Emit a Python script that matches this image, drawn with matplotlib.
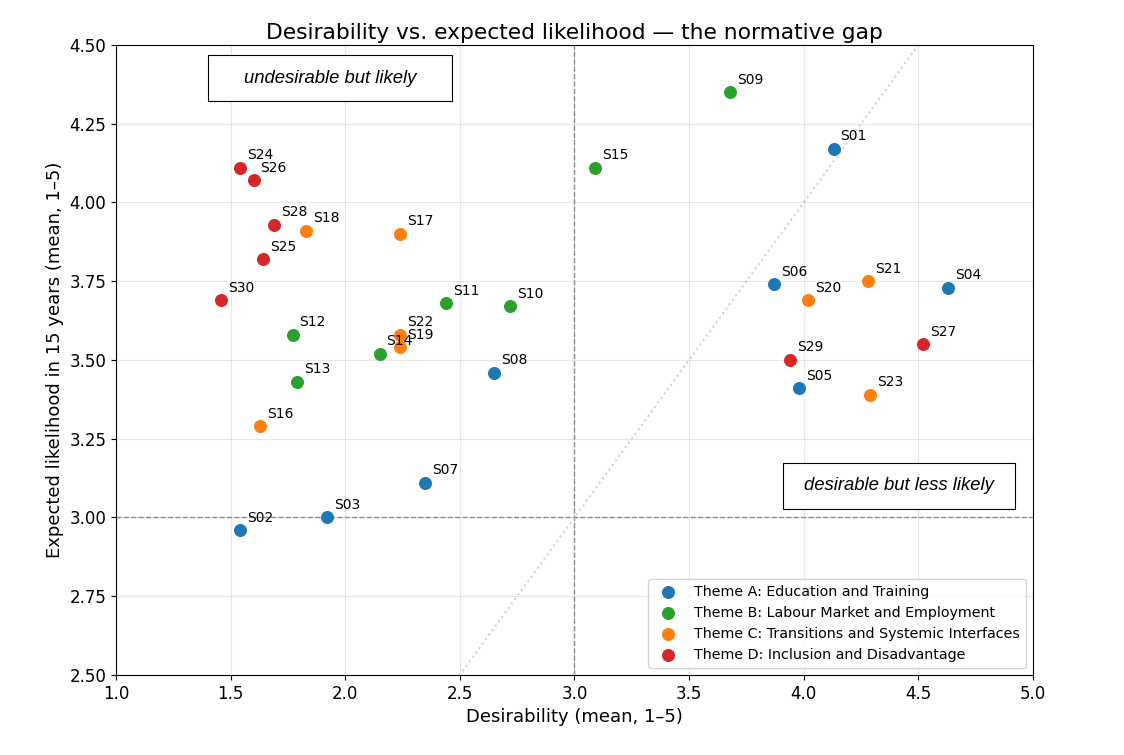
import matplotlib

matplotlib.use("Agg")
import matplotlib.pyplot as plt
from matplotlib.patches import Rectangle

# scenario ids, theme, desirability (x), expected likelihood (y)
ids = [f"S{i:02d}" for i in range(1, 31)]
themes = ["A", "A", "A", "A", "A", "A", "A", "A",
          "B", "B", "B", "B", "B", "B", "B",
          "C", "C", "C", "C", "C", "C", "C", "C",
          "D", "D", "D", "D", "D", "D", "D"]
desirability = [4.13, 1.54, 1.92, 4.63, 3.98, 3.87, 2.35, 2.65,
                3.68, 2.72, 2.44, 1.77, 1.79, 2.15, 3.09,
                1.63, 2.24, 1.83, 2.24, 4.02, 4.28, 2.24, 4.29,
                1.54, 1.64, 1.60, 4.52, 1.69, 3.94, 1.46]
likelihood = [4.17, 2.96, 3.00, 3.73, 3.41, 3.74, 3.11, 3.46,
              4.35, 3.67, 3.68, 3.58, 3.43, 3.52, 4.11,
              3.29, 3.90, 3.91, 3.54, 3.69, 3.75, 3.58, 3.39,
              4.11, 3.82, 4.07, 3.55, 3.93, 3.50, 3.69]

theme_names = {
    "A": "Theme A: Education and Training",
    "B": "Theme B: Labour Market and Employment",
    "C": "Theme C: Transitions and Systemic Interfaces",
    "D": "Theme D: Inclusion and Disadvantage",
}
theme_colors = {"A": "#1f77b4", "B": "#2ca02c", "C": "#ff7f0e", "D": "#d62728"}

fig = plt.figure(figsize=(11.24, 7.55), dpi=100)
ax = fig.add_axes([0.1032, 0.106, 0.8158, 0.8344])

ax.grid(True, alpha=0.3, zorder=0)

# reference lines
ax.axvline(3.0, color="gray", linestyle="--", linewidth=1, zorder=1)
ax.axhline(3.0, color="gray", linestyle="--", linewidth=1, zorder=1)
ax.plot([1, 5], [1, 5], color="lightgray", linestyle=":", linewidth=1.5, zorder=1)

for key in ["A", "B", "C", "D"]:
    xs = [x for x, t in zip(desirability, themes) if t == key]
    ys = [y for y, t in zip(likelihood, themes) if t == key]
    ax.scatter(xs, ys, s=70, color=theme_colors[key], label=theme_names[key], zorder=3)

for sid, x, y in zip(ids, desirability, likelihood):
    ax.annotate(sid, (x, y), xytext=(5, 4), textcoords="offset points",
                fontsize=10, ha="left", va="bottom")

ax.set_xlim(1.0, 5.0)
ax.set_ylim(2.5, 4.5)
ax.set_xticks([1.0, 1.5, 2.0, 2.5, 3.0, 3.5, 4.0, 4.5, 5.0])
ax.set_yticks([2.5, 2.75, 3.0, 3.25, 3.5, 3.75, 4.0, 4.25, 4.5])
ax.yaxis.set_major_formatter(plt.FormatStrFormatter("%.2f"))
ax.tick_params(labelsize=12)
ax.set_xlabel("Desirability (mean, 1–5)", fontsize=13)
ax.set_ylabel("Expected likelihood in 15 years (mean, 1–5)", fontsize=13)
ax.set_title("Desirability vs. expected likelihood — the normative gap",
             fontsize=15.7, pad=4)

# quadrant boxes
for (x0, y0, w, h, label) in [
    (0.1003, 0.911, 0.2661, 0.073, "undesirable but likely"),
    (0.727, 0.2635, 0.253, 0.073, "desirable but less likely"),
]:
    ax.add_patch(Rectangle((x0, y0), w, h, transform=ax.transAxes, facecolor="white",
                           edgecolor="black", linewidth=0.8, zorder=4))
    ax.text(x0 + w / 2, y0 + h / 2, label, transform=ax.transAxes, ha="center",
            va="center", fontsize=13.3, style="italic", family="Liberation Sans", zorder=5)

ax.legend(loc="lower right", fontsize=10.3)

fig.savefig("out.png", dpi=100)
